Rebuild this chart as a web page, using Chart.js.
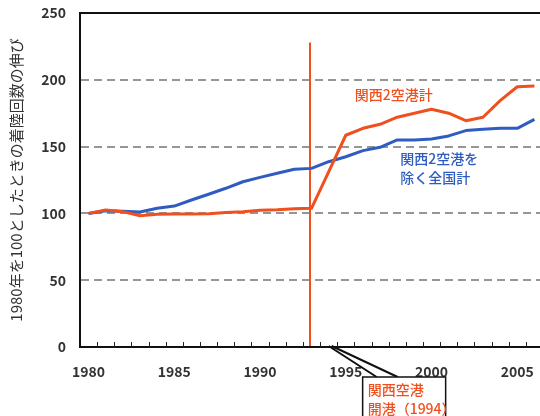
<!DOCTYPE html>
<html>
<head>
<meta charset="utf-8">
<script src="https://cdn.jsdelivr.net/npm/chart.js@4/dist/chart.umd.min.js"></script>
<style>
  html, body { margin: 0; padding: 0; background: #fff; overflow: hidden; }
  #wrap { width: 546px; height: 416px; }
</style>
</head>
<body>
<div id="wrap"><canvas id="c" width="546" height="416"></canvas></div>
<script>
// Landing counts indexed to 1980 = 100
const years = ['1980','1981','1982','1983','1984','1985','1986','1987','1988','1989',
               '1990','1991','1992','1993','1994','1995','1996','1997','1998','1999',
               '2000','2001','2002','2003','2004','2005','2006'];
const kansaiTwoAirports = [100,102.5,101.3,98.3,99.3,99.5,99.5,99.8,100.7,101.3,
                           102.3,102.7,103.5,103.8,131,158.5,163.7,166.7,172,175,
                           178,175,169.4,172,184.4,194.8,195.3];
const nationalExclKansai = [100,102,101.7,101,103.8,105.5,110,114.3,118.8,123.7,
                            127,130,133,133.7,138.7,142.4,147,149.5,155,155,
                            155.7,158,162,163,163.7,163.7,170.4];
const yTicks = [0, 50, 100, 150, 200, 250];
const labeledYears = ['1980','1985','1990','1995','2000','2005'];
const openingYear = '1994';
const markerYear = '1993';

const ORANGE = '#f0501e';
const BLUE = '#2f5cc0';
const JP = '"Noto Sans CJK JP", "Noto Sans", sans-serif';

const overlay = {
  id: 'overlay',
  beforeDatasetsDraw(chart) {
    const {ctx, scales: {x, y}, chartArea} = chart;
    // vertical marker line
    const mx = x.getPixelForValue(years.indexOf(markerYear)) - 1.5;
    ctx.save();
    ctx.strokeStyle = ORANGE;
    ctx.lineWidth = 2;
    ctx.beginPath();
    ctx.moveTo(mx, y.getPixelForValue(228));
    ctx.lineTo(mx, chartArea.bottom);
    ctx.stroke();
    ctx.restore();
  },
  afterDraw(chart) {
    const {ctx, scales: {x, y}, chartArea} = chart;
    ctx.save();
    // frame
    ctx.strokeStyle = '#111';
    ctx.lineWidth = 2;
    ctx.strokeRect(chartArea.left, chartArea.top, chartArea.right - chartArea.left, chartArea.bottom - chartArea.top);
    // inner tick marks at category boundaries
    ctx.lineWidth = 1;
    ctx.strokeStyle = '#222';
    for (let i = 1; i < years.length; i++) {
      const bx = Math.round((x.getPixelForValue(i - 1) + x.getPixelForValue(i)) / 2) + 0.5;
      ctx.beginPath();
      ctx.moveTo(bx, chartArea.bottom);
      ctx.lineTo(bx, chartArea.bottom - 5);
      ctx.stroke();
    }
    // series labels
    ctx.font = '500 14px ' + JP;
    ctx.textBaseline = 'middle';
    ctx.textAlign = 'left';
    ctx.fillStyle = ORANGE;
    ctx.fillText('関西2空港計', x.getPixelForValue(years.indexOf('1995')) + 9, y.getPixelForValue(188.5));
    ctx.fillStyle = BLUE;
    const bx0 = x.getPixelForValue(years.indexOf('1998')) + 3;
    ctx.fillText('関西2空港を', bx0, y.getPixelForValue(141));
    ctx.fillText('除く全国計', bx0, y.getPixelForValue(127));

    // callout for the airport opening
    const ax = x.getPixelForValue(years.indexOf(openingYear));
    const ay = chartArea.bottom - 1;
    const boxL = ax + 34, boxT = ay + 31;
    ctx.strokeStyle = '#111';
    ctx.lineWidth = 2;
    ctx.beginPath();
    ctx.moveTo(ax, ay);
    ctx.lineTo(boxL + 14, boxT);
    ctx.moveTo(ax + 3, ay);
    ctx.lineTo(boxL + 35, boxT);
    ctx.stroke();
    ctx.fillStyle = '#fff';
    ctx.fillRect(boxL, boxT, 83, 60);
    ctx.lineWidth = 1.5;
    ctx.strokeRect(boxL, boxT, 83, 60);
    ctx.fillStyle = ORANGE;
    ctx.font = '500 14px ' + JP;
    ctx.fillText('関西空港', boxL + 5, boxT + 13);
    ctx.fillText('開港（1994）', boxL + 5, boxT + 32);
    ctx.restore();
  }
};

new Chart(document.getElementById('c'), {
  type: 'line',
  data: {
    labels: years,
    datasets: [
      {
        label: '関西2空港計',
        data: kansaiTwoAirports,
        borderColor: ORANGE,
        borderWidth: 3,
        pointRadius: 0,
        tension: 0,
        borderJoinStyle: 'round',
        fill: false
      },
      {
        label: '関西2空港を除く全国計',
        data: nationalExclKansai,
        borderColor: BLUE,
        borderWidth: 3,
        pointRadius: 0,
        tension: 0,
        borderJoinStyle: 'round',
        fill: false
      }
    ]
  },
  options: {
    responsive: false,
    animation: false,
    devicePixelRatio: 1,
    layout: { padding: { top: 13, right: 3, bottom: 0, left: 0 } },
    plugins: { legend: { display: false }, tooltip: { enabled: false } },
    scales: {
      x: {
        type: 'category',
        offset: true,
        grid: { display: false, drawTicks: false, offset: true },
        border: { display: true, color: '#111', width: 2 },
        afterFit(s) { s.height = 69; s.paddingLeft = 0; s.paddingRight = 0; },
        ticks: {
          autoSkip: false,
          maxRotation: 0,
          padding: 16,
          color: '#333',
          font: { family: JP, size: 14, weight: 'bold' },
          callback(v) { const l = years[v]; return labeledYears.includes(l) ? l : ''; }
        }
      },
      y: {
        min: 0,
        max: 250,
        afterFit(s) { s.width = 80; s.paddingTop = 0; s.paddingBottom = 0; },
        afterBuildTicks(s) { s.ticks = yTicks.map(v => ({ value: v })); },
        grid: {
          drawTicks: false,
          lineWidth: 2,
          color(c) { return (c.tick && (c.tick.value === 0 || c.tick.value === 250)) ? 'rgba(0,0,0,0)' : '#969696'; }
        },
        border: { display: true, color: '#111', width: 2, dash: [8, 5] },
        ticks: {
          padding: 14,
          color: '#333',
          font: { family: JP, size: 14, weight: 'bold' }
        },
        title: {
          display: true,
          text: '1980年を100としたときの着陸回数の伸び',
          color: '#333',
          font: { family: JP, size: 15 },
          padding: { top: 7, bottom: 0 }
        }
      }
    }
  },
  plugins: [overlay]
});
</script>
</body>
</html>
